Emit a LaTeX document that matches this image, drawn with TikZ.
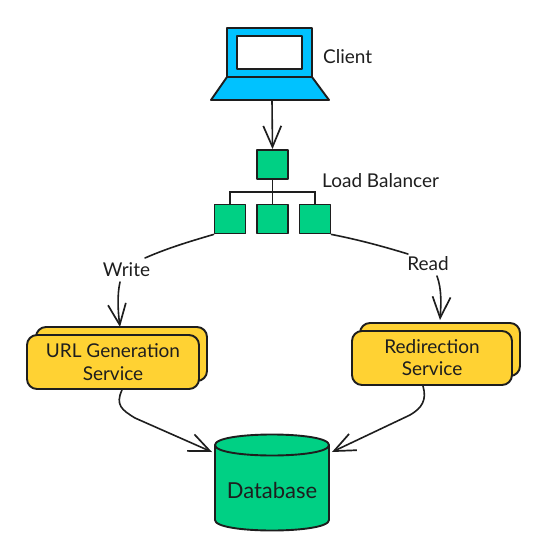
\documentclass[tikz,border=0pt]{standalone}
\usepackage{fontspec}
\setmainfont{Lato}
\usetikzlibrary{arrows.meta}
\definecolor{ink}{HTML}{1E1E1E}
\definecolor{sky}{HTML}{00C2FF}
\definecolor{mint}{HTML}{00D084}
\definecolor{amber}{HTML}{FFD233}
\tikzset{
  x=1pt,y=-1pt,
  every node/.style={text=ink,font=\fontsize{19pt}{22pt}\selectfont},
  outline/.style={draw=ink,line width=1.9pt,line join=round},
  sq/.style={outline,fill=mint,minimum width=31pt,minimum height=29pt,inner sep=0pt},
  tree/.style={draw=ink,line width=1.5pt},
  conn/.style={draw=ink,line width=1.6pt,line cap=round},
  arrowed/.style={conn,-{Straight Barb[length=21pt,width=18pt,line width=1.7pt]}},
  svc/.style={outline,fill=amber,rounded corners=10pt,inner sep=0pt},
  lbl/.style={inner sep=0pt,align=center}
}
\begin{document}
\begin{tikzpicture}
\useasboundingbox (0,0) rectangle (550,560);
% laptop
\path[outline,fill=sky] (227,28) rectangle (312,77);
\path[outline,fill=white] (237,36) rectangle (302,69);
\path[outline,fill=sky] (227,77) -- (312,77) -- (329,100) -- (211,100) -- cycle;
\coordinate (laptop) at (272,100);
\node[lbl,anchor=west] (client) at (323,57) {Client};
% load balancer
\node[sq] (lbtop) at (272.5,164.5) {};
\node[sq] (lba) at (230,219) {};
\node[sq] (lbb) at (272.5,219) {};
\node[sq] (lbc) at (315,219) {};
\node[lbl,anchor=west] (lblabel) at (322,181) {Load Balancer};
\coordinate (bar) at (272.5,192);
\draw[tree] (lbtop.south) -- (lbb.north);
\draw[tree] (lba.north) |- (bar) -| (lbc.north);
\draw[arrowed] (laptop) -- (lbtop.north);
% services
\path[svc] (36,327) rectangle (207,381);
\node[svc,minimum width=172pt,minimum height=54pt] (url) at (113,362) {};
\node[lbl] at (113,362) {URL Generation\\[1pt]Service};
\path[svc] (360,323) rectangle (520,376);
\node[svc,minimum width=160pt,minimum height=54pt] (red) at (432,358) {};
\node[lbl] at (432,358) {Redirection\\[0pt]Service};
% database
\path[outline,fill=mint] (215,445) .. controls (215,431) and (329,431) .. (329,445) -- (329,520) .. controls (329,534) and (215,534) .. (215,520) -- cycle;
\draw[outline] (215,445) .. controls (215,459) and (329,459) .. (329,445);
\node[lbl,font=\fontsize{22pt}{26pt}\selectfont] (db) at (272,490) {Database};
\coordinate (dbl) at (212,452);
\coordinate (dbr) at (332,452);
% labels and connectors
\node[lbl] (write) at (126.5,270) {Write};
\node[lbl] (read) at (428,264) {Read};
\coordinate (urltop) at (120,327);
\coordinate (redtop) at (440,320);
\draw[conn] (lba.south west) .. controls (195,240) and (170,247) .. (145,258);
\draw[arrowed] (120,282) .. controls (117,295) and (118,312) .. (urltop);
\draw[conn] (lbc.south east) .. controls (360,240) and (385,247) .. (408,254);
\draw[arrowed] (437,276) .. controls (442,290) and (441,305) .. (redtop);
\draw[arrowed] (122,390) .. controls (115,405) and (122,410) .. (135,418) -- (dbl);
\draw[arrowed] (423,386) .. controls (427,400) and (422,408) .. (410,415) -- (dbr);
\end{tikzpicture}
\end{document}
